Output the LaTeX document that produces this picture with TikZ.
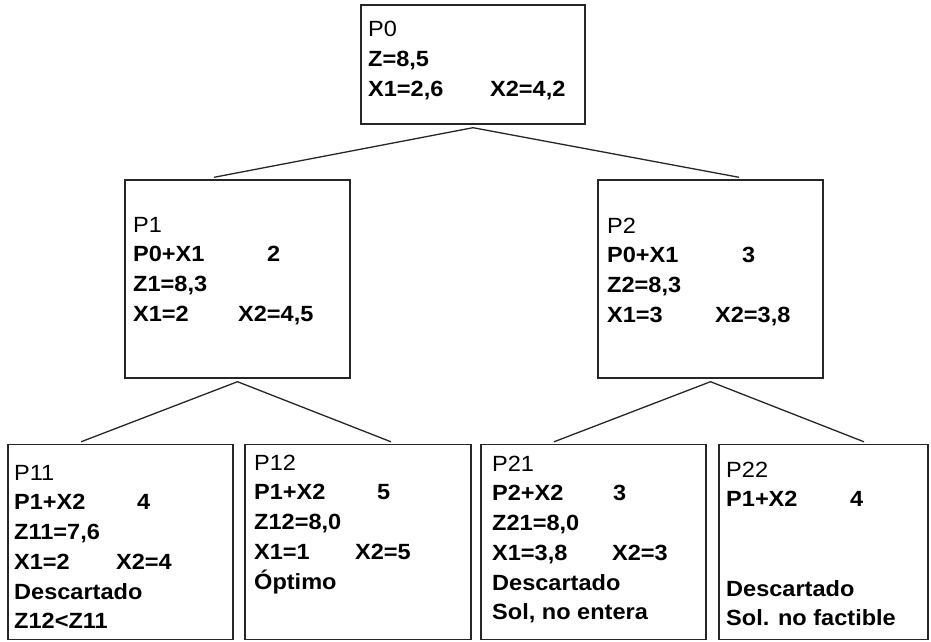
\documentclass[tikz,border=0pt]{standalone}
\usepackage{fontspec}
\setmainfont{Liberation Sans}[FakeStretch=1.07]
\begin{document}
\begin{tikzpicture}[x=1pt,y=-1pt,
  box/.style={draw=black!85,line width=1.4pt,inner sep=0pt,minimum width=#1},
  box/.default=225pt,
  txt/.style={anchor=base west,inner sep=0pt,font=\fontsize{22}{29.75}\selectfont},
  conn/.style={draw=black!85,line width=1.3pt}]
\useasboundingbox (0,0) rectangle (931,642);
% boxes
\node[box=224pt,minimum height=119pt] (p0) at (473,64.5) {};
\node[box,minimum height=198pt] (p1) at (237.5,279) {};
\node[box,minimum height=198pt] (p2) at (710.5,279) {};
\node[box,minimum height=195pt] (p11) at (120.5,542) {};
\node[box=226pt,minimum height=195pt] (p12) at (358,542) {};
\node[box,minimum height=195pt] (p21) at (593.5,542) {};
\node[box=209pt,minimum height=195pt] (p22) at (823.5,542) {};
% texts
\node[txt] (t0) at (368,37) {\begin{tabular}[t]{@{}l@{}}P0\\
\textbf{Z=8,5}\\
\textbf{\makebox[122pt][l]{X1=2,6}X2=4,2}\end{tabular}};
\node[txt] (t1) at (133,232) {\begin{tabular}[t]{@{}l@{}}P1\\
\textbf{\makebox[134pt][l]{P0+X1}2}\\
\textbf{Z1=8,3}\\
\textbf{\makebox[105pt][l]{X1=2}X2=4,5}\end{tabular}};
\node[txt] (t2) at (607,233) {\begin{tabular}[t]{@{}l@{}}P2\\
\textbf{\makebox[135pt][l]{P0+X1}3}\\
\textbf{Z2=8,3}\\
\textbf{\makebox[108pt][l]{X1=3}X2=3,8}\end{tabular}};
\node[txt] (t11) at (14,480) {\begin{tabular}[t]{@{}l@{}}P11\\
\textbf{\makebox[123pt][l]{P1+X2}4}\\
\textbf{Z11=7,6}\\
\textbf{\makebox[102pt][l]{X1=2}X2=4}\\
\textbf{Descartado}\\
\textbf{Z12<Z11}\end{tabular}};
\node[txt] (t12) at (254,470) {\begin{tabular}[t]{@{}l@{}}P12\\
\textbf{\makebox[123pt][l]{P1+X2}5}\\
\textbf{Z12=8,0}\\
\textbf{\makebox[101pt][l]{X1=1}X2=5}\\
\textbf{Óptimo}\end{tabular}};
\node[txt] (t21) at (492,471) {\begin{tabular}[t]{@{}l@{}}P21\\
\textbf{\makebox[121pt][l]{P2+X2}3}\\
\textbf{Z21=8,0}\\
\textbf{\makebox[120pt][l]{X1=3,8}X2=3}\\
\textbf{Descartado}\\
\textbf{Sol, no entera}\end{tabular}};
\node[txt] (t22) at (726,477) {\begin{tabular}[t]{@{}l@{}}P22\\
\textbf{\makebox[124pt][l]{P1+X2}4}\\
\\
\\
\textbf{Descartado}\\
\textbf{Sol. no factible}\end{tabular}};
% connector points
\coordinate (a0) at ([yshift=-3pt]p0.south);
\coordinate (e1) at ([xshift=-23.5pt,yshift=2pt]p1.north);
\coordinate (e2) at ([xshift=28.5pt,yshift=2pt]p2.north);
\coordinate (a1) at ([yshift=-3pt]p1.south);
\coordinate (e11) at ([xshift=-39.5pt,yshift=2pt]p11.north);
\coordinate (e12) at ([xshift=33pt,yshift=2pt]p12.north);
\coordinate (a2) at ([yshift=-3pt]p2.south);
\coordinate (e21) at ([xshift=-39.5pt,yshift=2pt]p21.north);
\coordinate (e22) at ([xshift=40.5pt,yshift=2pt]p22.north);
\draw[conn] (e1) -- (a0) -- (e2);
\draw[conn] (e11) -- (a1) -- (e12);
\draw[conn] (e21) -- (a2) -- (e22);
\end{tikzpicture}
\end{document}
